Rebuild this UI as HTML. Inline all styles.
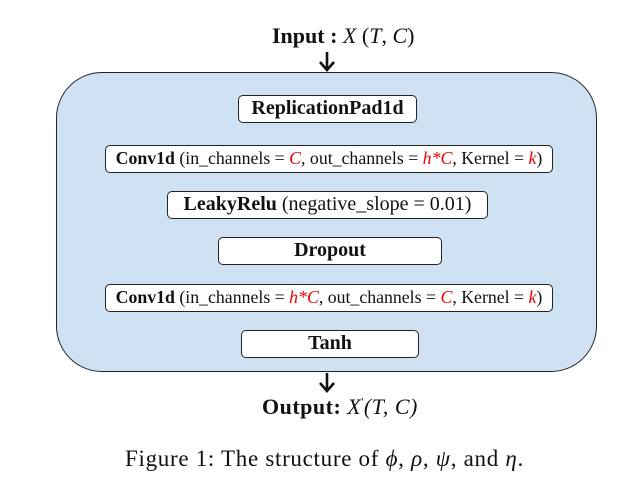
<!DOCTYPE html>
<html><head><style>
body{margin:0;width:627px;height:493px;background:#fff;position:relative;overflow:hidden;font-family:"Liberation Serif",serif;color:#111}
.c{position:absolute;left:56px;top:72px;width:541px;height:300px;background:#cfe2f3;border:1.7px solid #222;border-radius:46px;box-sizing:border-box}
.b{position:absolute;background:#fff;border:1.5px solid #222;border-radius:5px;box-sizing:border-box;text-align:center;font-size:20px;line-height:25px;white-space:nowrap}
.s{font-size:17.8px}
.r{color:#e00;font-style:italic}
.t{position:absolute;white-space:nowrap;font-size:22px}
</style></head><body>
<div class="t" style="left:272px;top:23px"><b>Input :</b> <i>X</i> (<i>T</i>, <i>C</i>)</div>
<svg style="position:absolute;left:0;top:0" width="627" height="493">
<line x1="327" y1="52" x2="327" y2="70" stroke="#111" stroke-width="2.6"/>
<polyline points="320,62 327,70 334,62" fill="none" stroke="#111" stroke-width="2.6"/>
<line x1="327" y1="373" x2="327" y2="391" stroke="#111" stroke-width="2.6"/>
<polyline points="320,383 327,391 334,383" fill="none" stroke="#111" stroke-width="2.6"/>
</svg>
<div class="c"></div>
<div class="b" style="left:238px;top:95px;width:179px;height:28px"><b>ReplicationPad1d</b></div>
<div class="b s" style="left:105px;top:145px;width:448px;height:28px"><b>Conv1d</b> (in_channels = <span class="r">C</span>, out_channels = <span class="r">h*C</span>, Kernel = <span class="r">k</span>)</div>
<div class="b" style="left:167px;top:191px;width:321px;height:28px"><b>LeakyRelu</b> (negative_slope = 0.01)</div>
<div class="b" style="left:218px;top:237px;width:224px;height:28px"><b>Dropout</b></div>
<div class="b s" style="left:105px;top:284px;width:448px;height:28px"><b>Conv1d</b> (in_channels = <span class="r">h*C</span>, out_channels = <span class="r">C</span>, Kernel = <span class="r">k</span>)</div>
<div class="b" style="left:241px;top:330px;width:178px;height:28px"><b>Tanh</b></div>
<div class="t" style="left:262px;top:394px;letter-spacing:0.5px"><b>Output:</b> <i>X</i><sup style="font-size:12px">'</sup><i>(T, C)</i></div>
<div class="t" style="left:125px;top:446px;font-size:23px;letter-spacing:0.7px">Figure 1: The structure of <i>ϕ</i>, <i>ρ</i>, <i>ψ</i>, and <i>η</i>.</div>
</body></html>
